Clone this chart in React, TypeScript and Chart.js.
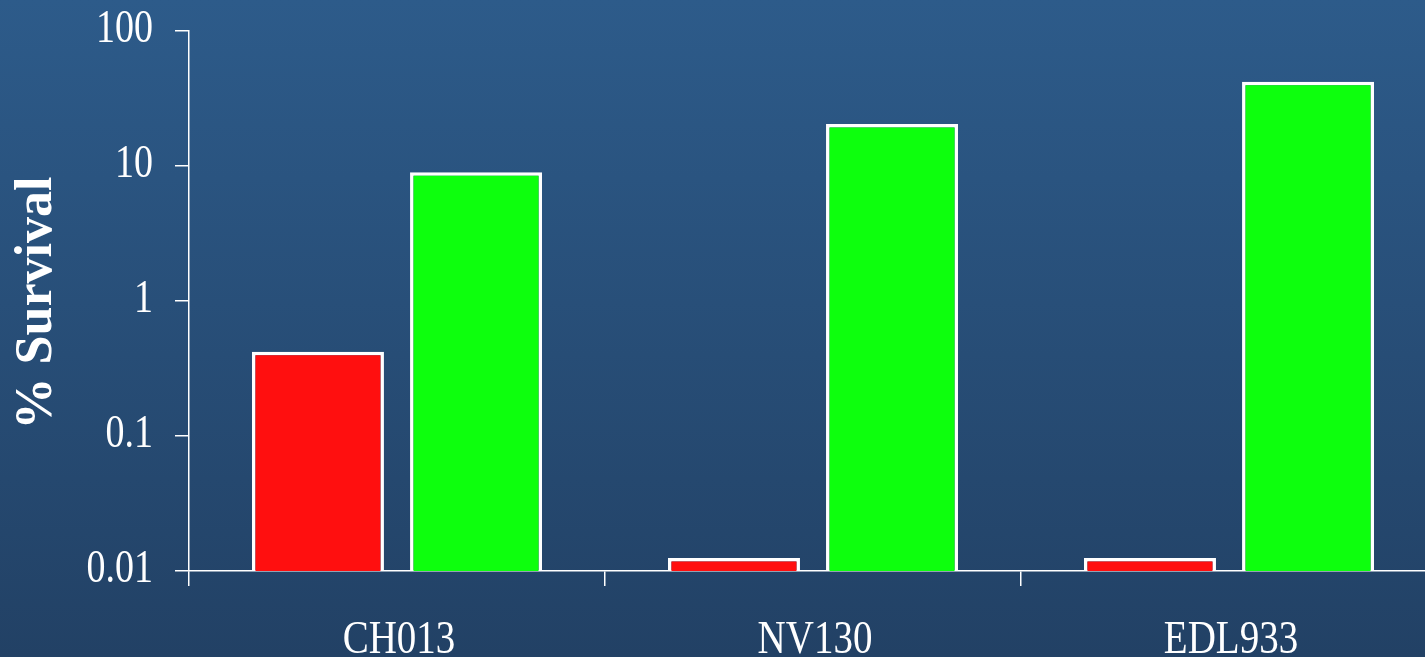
import React, { useEffect, useRef } from "react";
import { Chart, registerables } from "chart.js";

Chart.register(...registerables);

const categories = ["CH013", "NV130", "EDL933"];
const redValues = [0.42, 0.0125, 0.0125];
const greenValues = [9.0, 20.5, 42];
const yTickValues = [0.01, 0.1, 1, 10, 100];
const yTickLabels = ["0.01", "0.1", "1", "10", "100"];
const yTitle = "% Survival";

const bgPlugin = {
  id: "bgGradient",
  beforeDraw(chart: any) {
    const { ctx, width, height } = chart;
    const g = ctx.createLinearGradient(0, 0, 0, height);
    g.addColorStop(0, "#2d5b8a");
    g.addColorStop(1, "#224165");
    ctx.save();
    ctx.fillStyle = g;
    ctx.fillRect(0, 0, width, height);
    ctx.restore();
  },
};

const textPlugin = {
  id: "stretchedText",
  afterDraw(chart: any) {
    const { ctx } = chart;
    const y = chart.scales.y;
    const x = chart.scales.x;
    ctx.save();
    ctx.fillStyle = "#ffffff";
    ctx.font = '38px "Liberation Serif"';
    ctx.textAlign = "right";
    ctx.textBaseline = "alphabetic";
    yTickValues.forEach((v, i) => {
      const py = y.getPixelForValue(v);
      ctx.save();
      ctx.translate(153, py + 10.5);
      ctx.scale(1, 1.2);
      ctx.fillText(yTickLabels[i], 0, 0);
      ctx.restore();
    });
    ctx.font = '39px "Liberation Serif"';
    ctx.textAlign = "center";
    categories.forEach((c, i) => {
      const px = x.getPixelForValue(i);
      ctx.save();
      ctx.translate(px + 2, 653);
      ctx.scale(1, 1.2);
      ctx.fillText(c, 0, 0);
      ctx.restore();
    });
    ctx.font = 'bold 52px "Liberation Serif"';
    ctx.save();
    ctx.translate(51, (y.top + y.bottom) / 2 + 2);
    ctx.rotate(-Math.PI / 2);
    ctx.textAlign = "center";
    ctx.fillText(yTitle, 0, 0);
    ctx.restore();
    ctx.restore();
  },
};

export default function App() {
  const ref = useRef<HTMLCanvasElement | null>(null);
  useEffect(() => {
    if (!ref.current) return;
    const chart = new Chart(ref.current, {
      type: "bar",
      data: {
        labels: categories,
        datasets: [
          {
            label: "Red",
            data: redValues,
            backgroundColor: "#ff0f0f",
            borderColor: "#ffffff",
            borderWidth: 3.5,
          },
          {
            label: "Green",
            data: greenValues,
            backgroundColor: "#0dff0d",
            borderColor: "#ffffff",
            borderWidth: 3.5,
          },
        ],
      },
      options: {
        animation: false,
        responsive: true,
        maintainAspectRatio: false,
        devicePixelRatio: 1,
        layout: { padding: { top: 31, left: 0, right: 0, bottom: 0 } },
        plugins: {
          legend: { display: false },
          tooltip: { enabled: false },
          title: { display: false },
        },
        datasets: {
          bar: { categoryPercentage: 0.76, barPercentage: 0.835 },
        },
        scales: {
          x: {
            type: "category",
            offset: true,
            ticks: { display: false },
            grid: {
              offset: true,
              drawOnChartArea: false,
              drawTicks: true,
              tickLength: 15,
              color: "#ffffff",
              lineWidth: 1.5,
            },
            border: { display: true, color: "#ffffff", width: 1.5 },
            afterFit: (s: any) => {
              s.height = 86;
            },
          },
          y: {
            type: "logarithmic",
            min: 0.01,
            max: 100,
            ticks: { display: false },
            afterBuildTicks: (s: any) => {
              s.ticks = yTickValues.map((v) => ({ value: v }));
            },
            grid: {
              drawOnChartArea: false,
              drawTicks: true,
              tickLength: 14,
              color: "#ffffff",
              lineWidth: 1.5,
            },
            border: { display: true, color: "#ffffff", width: 1.5 },
            afterFit: (s: any) => {
              s.width = 189;
            },
          },
        },
      },
      plugins: [bgPlugin, textPlugin],
    });
    return () => chart.destroy();
  }, []);
  return (
    <div style={{ position: "fixed", left: 0, top: 0, width: 1437, height: 657 }}>
      <canvas ref={ref} />
    </div>
  );
}
